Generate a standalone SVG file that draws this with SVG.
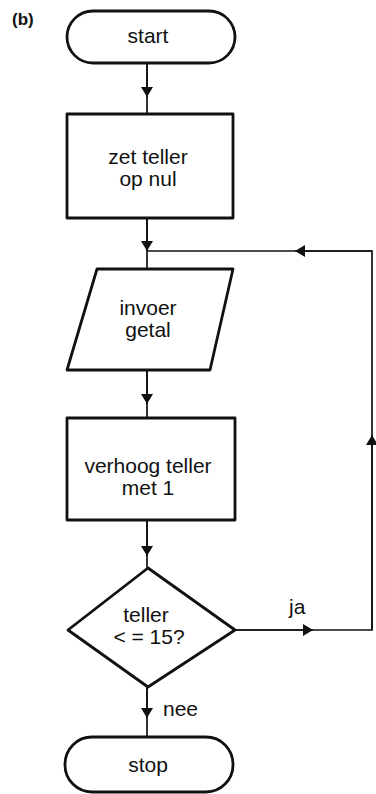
<svg xmlns="http://www.w3.org/2000/svg" width="376" height="794" viewBox="0 0 376 794">
<style>
.shape{fill:#fff;stroke:#111;stroke-width:2.8;stroke-linejoin:round}
.conn{fill:none;stroke:#111;stroke-width:1.7}
text{font-family:"Liberation Sans",Arial,sans-serif;font-size:21px;fill:#111;text-anchor:middle}
.lbl{text-anchor:start}
</style>
<defs>
<marker id="ah" viewBox="0 0 10 14" refX="10" refY="7" markerWidth="10" markerHeight="14" markerUnits="userSpaceOnUse" orient="auto">
<path d="M0,1 L10,7 L0,13 Z" fill="#111"/>
</marker>
</defs>
<rect width="376" height="794" fill="#fff"/>
<text x="12" y="25" class="lbl" style="font-weight:bold;font-size:17px">(b)</text>
<g id="connectors">
<path class="conn" d="M147,63 V115"/>
<path class="conn" d="M147,63 V97" marker-end="url(#ah)"/>
<path class="conn" d="M147,218 V269"/>
<path class="conn" d="M147,218 V251" marker-end="url(#ah)"/>
<path class="conn" d="M147,370 V418"/>
<path class="conn" d="M147,370 V404" marker-end="url(#ah)"/>
<path class="conn" d="M147,520 V568"/>
<path class="conn" d="M147,520 V556" marker-end="url(#ah)"/>
<path class="conn" d="M147,687 V737"/>
<path class="conn" d="M147,687 V718" marker-end="url(#ah)"/>
<path class="conn" d="M235,630 H372 V251 H147"/>
<path class="conn" d="M235,630 H313" marker-end="url(#ah)"/>
<path class="conn" d="M372,630 V435" marker-end="url(#ah)"/>
<path class="conn" d="M372,251 H295" marker-end="url(#ah)"/>
<text x="289" y="614" class="lbl">ja</text>
<text x="163" y="716" class="lbl">nee</text>
</g>
<g id="start">
<rect class="shape" x="67" y="11" width="168" height="52" rx="26"/>
<text x="148" y="43">start</text>
</g>
<g id="zet">
<rect class="shape" x="67" y="114" width="166" height="104"/>
<text x="148" y="164">zet teller</text>
<text x="148" y="186">op nul</text>
</g>
<g id="invoer">
<path class="shape" d="M97,269 H233 L210,370 H67 Z"/>
<text x="148" y="315">invoer</text>
<text x="148" y="337">getal</text>
</g>
<g id="verhoog">
<rect class="shape" x="67" y="418" width="168" height="102"/>
<text x="148" y="473">verhoog teller</text>
<text x="148" y="495">met 1</text>
</g>
<g id="beslis">
<path class="shape" d="M148,568 L235,630 L148,687 L68,630 Z"/>
<text x="146" y="622">teller</text>
<text x="149" y="644">&lt; = 15?</text>
</g>
<g id="stop">
<rect class="shape" x="65" y="737" width="168" height="55" rx="27"/>
<text x="148" y="772">stop</text>
</g>
</svg>
